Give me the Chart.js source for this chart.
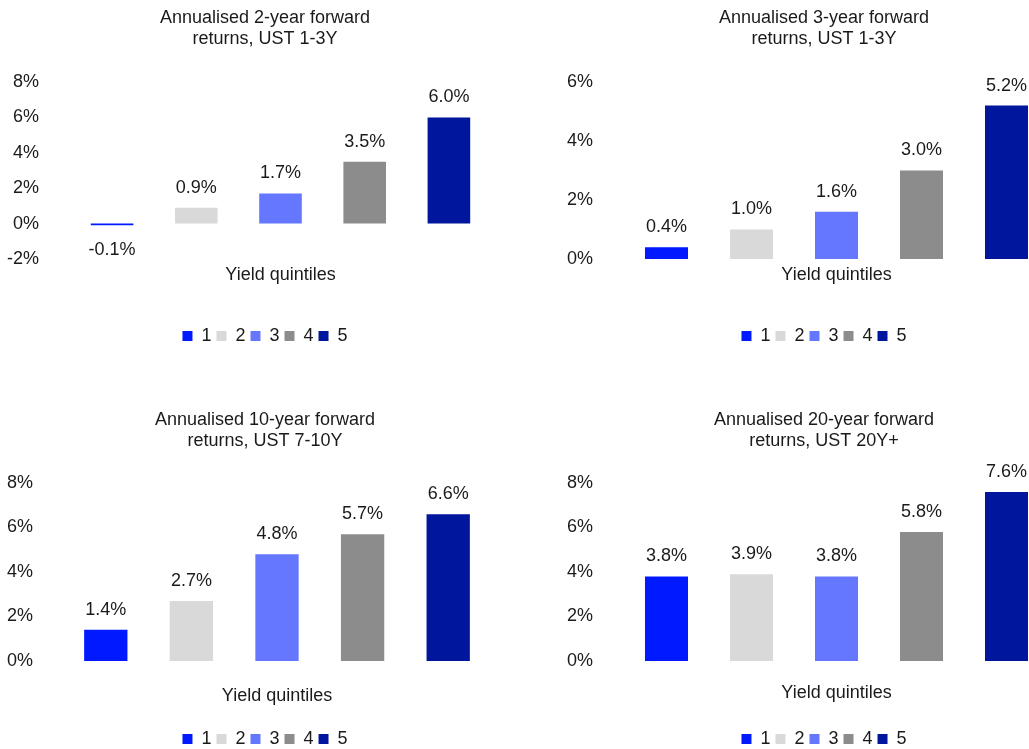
<!DOCTYPE html>
<html>
<head>
<meta charset="utf-8">
<script src="https://cdn.jsdelivr.net/npm/chart.js@4"></script>
<style>
  html, body { margin: 0; padding: 0; background: #fff; }
  #wrap { position: relative; width: 1029px; height: 749px; overflow: hidden; }
  canvas { position: absolute; }
</style>
</head>
<body>
<div id="wrap">
  <canvas id="c1"></canvas>
  <canvas id="c2"></canvas>
  <canvas id="c3"></canvas>
  <canvas id="c4"></canvas>
</div>
<script>
const quintiles = ['1', '2', '3', '4', '5'];
const returns2y = [-0.1, 0.9, 1.7, 3.5, 6.0];
const returns3y = [0.4, 1.0, 1.6, 3.0, 5.2];
const returns10y = [1.4, 2.7, 4.8, 5.7, 6.6];
const returns20y = [3.8, 3.9, 3.8, 5.8, 7.6];
const titles = [
  ['Annualised 2-year forward', 'returns, UST 1-3Y'],
  ['Annualised 3-year forward', 'returns, UST 1-3Y'],
  ['Annualised 10-year forward', 'returns, UST 7-10Y'],
  ['Annualised 20-year forward', 'returns, UST 20Y+']
];
const xAxisTitle = 'Yield quintiles';
const yMin = [-2, 0, 0, 0];
const yMax = [8, 6, 8, 8];

const colors = ['#0019ff', '#d9d9d9', '#6677ff', '#8c8c8c', '#00169c'];
const textColor = '#1a1a1a';
const fontFamily = '"Liberation Sans", Arial, sans-serif';

// where each panel sits on the page (yW = left axis, rW = empty right axis)
const panels = [
  { id: 'c1', values: returns2y, left: 0, top: 0, width: 530, height: 355, yW: 70, rW: 39, tickPad: 31, titleBottom: 32, xH: 63, xTitlePad: 36.2 },
  { id: 'c2', values: returns3y, left: 514, top: 0, width: 620, height: 355, yW: 110, rW: 85, tickPad: 31, titleBottom: 32, xH: 63, xTitlePad: 36.2 },
  { id: 'c3', values: returns10y, left: 0, top: 402, width: 530, height: 356, yW: 63, rW: 39, tickPad: 30, titleBottom: 31, xH: 64, xTitlePad: 18.2 },
  { id: 'c4', values: returns20y, left: 514, top: 402, width: 620, height: 356, yW: 110, rW: 85, tickPad: 31, titleBottom: 31, xH: 64, xTitlePad: 21.2 }
];

Chart.defaults.font.family = fontFamily;
Chart.defaults.font.size = 18;
Chart.defaults.color = textColor;

// value labels above (or below) each bar
const valueLabels = {
  id: 'valueLabels',
  afterDatasetsDraw(chart) {
    const ctx = chart.ctx;
    ctx.save();
    ctx.font = '18px ' + fontFamily;
    ctx.fillStyle = textColor;
    ctx.textAlign = 'center';
    ctx.textBaseline = 'middle';
    chart.data.datasets.forEach((ds, i) => {
      const bar = chart.getDatasetMeta(i).data[0];
      const v = ds.data[0];
      const y = v < 0 ? bar.y + 25 : bar.y - 20;
      ctx.fillText(v.toFixed(1) + '%', bar.x, y);
    });
    ctx.restore();
  }
};

panels.forEach((p, n) => {
  const canvas = document.getElementById(p.id);
  canvas.width = p.width;
  canvas.height = p.height;
  canvas.style.left = p.left + 'px';
  canvas.style.top = p.top + 'px';

  new Chart(canvas.getContext('2d'), {
    type: 'bar',
    data: {
      labels: [''],
      datasets: quintiles.map((q, i) => ({
        label: q,
        data: [p.values[i]],
        backgroundColor: colors[i],
        categoryPercentage: 1,
        barPercentage: 0.506
      }))
    },
    options: {
      responsive: false,
      animation: false,
      layout: { padding: 0 },
      plugins: {
        title: {
          display: true,
          text: titles[n],
          color: textColor,
          font: { size: 18, weight: 'normal', lineHeight: 1.1667 },
          padding: { top: 8, bottom: p.titleBottom }
        },
        legend: {
          position: 'bottom',
          labels: { boxWidth: 10, boxHeight: 10, padding: 5, color: textColor, font: { size: 18 } }
        },
        tooltip: { enabled: false }
      },
      scales: {
        x: {
          ticks: { display: false },
          grid: { display: false, drawTicks: false },
          border: { display: false },
          title: {
            display: true,
            text: xAxisTitle,
            color: textColor,
            font: { size: 18, lineHeight: 1.2 },
            padding: { top: 0, bottom: p.xTitlePad }
          },
          afterFit: s => { s.height = p.xH; }
        },
        y: {
          min: yMin[n],
          max: yMax[n],
          ticks: {
            stepSize: 2,
            padding: p.tickPad,
            color: textColor,
            font: { size: 18 },
            callback: v => v + '%'
          },
          grid: { display: false, drawTicks: false },
          border: { display: false },
          afterFit: s => { s.width = p.yW; }
        },
        // empty axis on the right, only keeps the plot narrower than the title/legend band
        spacer: {
          position: 'right',
          ticks: { display: false },
          grid: { display: false, drawTicks: false },
          border: { display: false },
          afterFit: s => { s.width = p.rW; }
        }
      }
    },
    plugins: [valueLabels]
  });
});
</script>
</body>
</html>
